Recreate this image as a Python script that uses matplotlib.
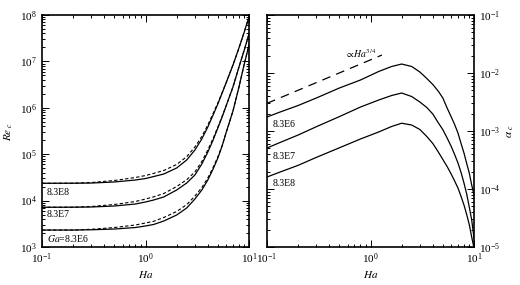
import numpy as np
import matplotlib
matplotlib.use('Agg')
import matplotlib.pyplot as plt
from matplotlib.ticker import LogLocator, NullFormatter

plt.rcParams['font.family'] = 'serif'
plt.rcParams['font.serif'] = ['Liberation Serif', 'DejaVu Serif']
plt.rcParams['mathtext.fontset'] = 'stix'

# left panel: critical Reynolds number against Ha
ha_re = [0.1, 0.2, 0.3, 0.5, 0.8, 1.0, 1.2, 1.5, 2.0, 2.5, 3.0, 3.5, 4.0, 4.5, 5.0, 5.5,
         6.0, 7.0, 8.0, 9.0, 10.0]
re_ga8 = [23600, 23700, 23900, 25200, 27800, 29900, 33000, 37400, 50400, 75000, 1.23e5,
          2.13e5, 3.86e5, 7.0e5, 1.21e6, 2.08e6, 3.42e6, 8.36e6, 1.95e7, 4.31e7, 9.06e7]
re_ga7 = [7180, 7210, 7280, 7650, 8450, 9330, 10300, 11970, 16900, 23900, 35600,
          61500, 1.11e5, 2.02e5, 3.67e5, 6.34e5, 1.09e6, 2.81e6, 7.57e6, 1.76e7, 3.90e7]
re_ga6 = [2320, 2320, 2350, 2440, 2630, 2840, 3060, 3630, 4890, 6930, 10800,
          16900, 27800, 48000, 82800, 1.50e5, 2.87e5, 8.53e5, 2.81e6, 8.79e6, 2.25e7]
# dashed approximations
re_ga8_dash = [23600, 23700, 24500, 27100, 31500, 34700, 38600, 44500, 60000, 88500, 1.43e5,
               2.41e5, 4.26e5, 7.54e5, 1.27e6, 2.13e6, 3.42e6, 8.36e6, 1.95e7, 4.31e7, 9.06e7]
re_ga7_dash = [7180, 7210, 7460, 8240, 9570, 10800, 12050, 14200, 20100, 28200, 41300,
               69500, 1.23e5, 2.18e5, 3.86e5, 6.5e5, 1.09e6, 2.81e6, 7.57e6, 1.76e7, 3.90e7]
re_ga6_dash = [2320, 2320, 2410, 2630, 2980, 3290, 3580, 4320, 5820, 8180, 12500,
               19100, 30700, 51700, 87000, 1.54e5, 2.87e5, 8.53e5, 2.81e6, 8.79e6, 2.25e7]

# right panel: alpha_c against Ha
ha_al = [0.1, 0.13, 0.2, 0.3, 0.5, 0.8, 1.2, 1.6, 2.0, 2.5, 3.0, 3.5, 4.0, 4.5, 5.0, 5.5,
         6.0, 6.5, 7.0, 7.5, 8.0, 8.5, 9.0, 9.5, 10.0]
al_ga6 = [1.743e-3, 2.084e-3, 2.754e-3, 3.71e-3, 5.51e-3, 7.57e-3, 1.062e-2, 1.295e-2,
          1.428e-2, 1.295e-2, 1.040e-2, 8.04e-3, 6.34e-3, 4.90e-3, 3.71e-3, 2.49e-3,
          1.778e-3, 1.295e-3, 9.24e-4, 6.09e-4, 4.18e-4, 2.75e-4, 1.89e-4, 1.172e-4, 7.88e-5]
al_ga7 = [5.09e-4, 6.21e-4, 8.53e-4, 1.186e-3, 1.770e-3, 2.59e-3, 3.42e-3, 4.09e-3,
          4.52e-3, 3.93e-3, 3.16e-3, 2.54e-3, 1.963e-3, 1.402e-3, 1.053e-3, 7.57e-4,
          5.51e-4, 3.93e-4, 2.81e-4, 1.924e-4, 1.268e-4, 8.20e-5, 4.90e-5, 2.92e-5, 1.43e-5]
al_ga8 = [1.61e-4, 1.924e-4, 2.56e-4, 3.51e-4, 5.13e-4, 7.28e-4, 9.62e-4, 1.197e-3,
          1.362e-3, 1.268e-3, 1.061e-3, 8.04e-4, 6.09e-4, 4.40e-4, 3.23e-4, 2.44e-4,
          1.828e-4, 1.374e-4, 1.040e-4, 7.43e-5, 5.30e-5, 3.63e-5, 2.44e-5, 1.486e-5, 9.6e-6]
ha_slope = [0.1, 1.29]
al_slope = [3.0e-3, 2.04e-2]


def style_axis(ax):
    ax.set_xscale('log')
    ax.set_yscale('log')
    ax.tick_params(which='both', direction='in', top=True, right=True, left=True,
                   labelsize=8, width=0.7)
    ax.tick_params(which='major', length=5)
    ax.tick_params(which='minor', length=2.5)
    ax.xaxis.set_major_locator(LogLocator(base=10, numticks=10))
    ax.xaxis.set_minor_locator(LogLocator(base=10, subs=np.arange(2, 10), numticks=10))
    ax.yaxis.set_minor_locator(LogLocator(base=10, subs=np.arange(2, 10), numticks=10))
    ax.yaxis.set_minor_formatter(NullFormatter())
    ax.xaxis.set_minor_formatter(NullFormatter())
    for s in ax.spines.values():
        s.set_linewidth(1.2)
    ax.set_xlabel('$Ha$', fontsize=8, labelpad=2)


fig = plt.figure(figsize=(5.2, 2.85), dpi=100)
ax1 = fig.add_axes([42 / 520, 38 / 285, 207 / 520, 232 / 285])
ax2 = fig.add_axes([267 / 520, 38 / 285, 207 / 520, 232 / 285])

for r in [re_ga8, re_ga7, re_ga6]:
    ax1.plot(ha_re, r, color='k', lw=0.9)
for r in [re_ga8_dash, re_ga7_dash, re_ga6_dash]:
    ax1.plot(ha_re, r, color='k', lw=0.8, dashes=(3, 2))
style_axis(ax1)
ax1.set_xlim(0.1, 10)
ax1.set_ylim(1e3, 1e8)
ax1.yaxis.set_major_locator(LogLocator(base=10, numticks=10))
ax1.set_ylabel('$Re_{\\ c}$', fontsize=8, labelpad=4)
ax1.text(0.112, 1.46e4, '8.3E8', fontsize=7, va='center')
ax1.text(0.112, 4.9e3, '8.3E7', fontsize=7, va='center')
ax1.text(0.112, 1.56e3, '$Ga$=8.3E6', fontsize=7, va='center')

for a in [al_ga6, al_ga7, al_ga8]:
    ax2.plot(ha_al, a, color='k', lw=0.9)
ax2.plot(ha_slope, al_slope, color='k', lw=0.9, dashes=(7, 5))
style_axis(ax2)
ax2.set_xlim(0.1, 10)
ax2.set_ylim(1e-5, 1e-1)
ax2.yaxis.set_major_locator(LogLocator(base=10, numticks=10))
ax2.yaxis.tick_right()
ax2.tick_params(which='both', left=True, right=True, labelleft=False, labelright=True)
ax2.yaxis.get_major_ticks()[0].label2.set_visible(False)
ax2.yaxis.set_label_position('right')
ax2.set_ylabel('$\\alpha_{\\ c}$', fontsize=8, rotation=90, labelpad=4)
ax2.text(0.114, 1.32e-3, '8.3E6', fontsize=7, va='center')
ax2.text(0.114, 3.7e-4, '8.3E7', fontsize=7, va='center')
ax2.text(0.114, 1.22e-4, '8.3E8', fontsize=7, va='center')
ax2.text(0.57, 1.85e-2, '$\\propto\\!Ha^{3/4}$', fontsize=7, va='baseline')

fig.savefig('out.png', dpi=100)
